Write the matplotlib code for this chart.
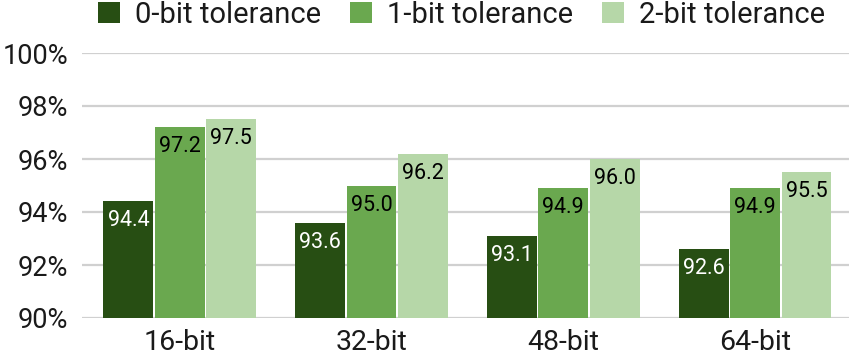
import matplotlib.pyplot as plt
import numpy as np

plt.rcParams['font.family'] = ['Roboto', 'DejaVu Sans']

categories = ['16-bit', '32-bit', '48-bit', '64-bit']
series = ['0-bit tolerance', '1-bit tolerance', '2-bit tolerance']
tol0 = [94.4, 93.6, 93.1, 92.6]
tol1 = [97.2, 95.0, 94.9, 94.9]
tol2 = [97.5, 96.2, 96.0, 95.5]
colors = ['#274e13', '#6aa84f', '#b6d7a8']
text_colors = ['white', 'black', 'black']

fig = plt.figure(figsize=(8.5, 3.56), dpi=100)
ax = fig.add_axes([82/850, 1 - 318/356, 767/850, 265/356])

x = np.arange(len(categories))
w = 0.26
for i, (vals, name) in enumerate(zip([tol0, tol1, tol2], series)):
    pos = x + (i - 1) * 0.268
    ax.bar(pos, vals, width=w, color=colors[i], label=name, zorder=3)
    for xb, v in zip(pos, vals):
        ax.text(xb, v - 0.34, f'{v:.1f}', ha='center', va='top', fontsize=15.5,
                color=text_colors[i], zorder=4)

ax.set_ylim(90, 100)
ax.set_xlim(-0.51, len(categories) - 0.51)
ax.set_yticks(np.arange(90, 101, 2))
ax.set_yticklabels([f'{t}%' for t in range(90, 101, 2)])
ax.set_xticks(x)
ax.set_xticklabels(categories)
ax.tick_params(axis='both', length=0, colors='#1a1a1a')
ax.tick_params(axis='y', pad=10, labelsize=19.5)
ax.tick_params(axis='x', pad=8, labelsize=20.5)
ax.grid(axis='y', color='#d0d0d0', linewidth=1.6, zorder=0)
for s in ax.spines.values():
    s.set_visible(False)

leg = ax.legend(loc='center', bbox_to_anchor=(0.495, 1.145), ncol=3, frameon=False,
                fontsize=21, handlelength=0.76, handleheight=0.76, handletextpad=0.5,
                columnspacing=1.0, labelcolor='#1a1a1a')

fig.savefig('out.png', dpi=100)
